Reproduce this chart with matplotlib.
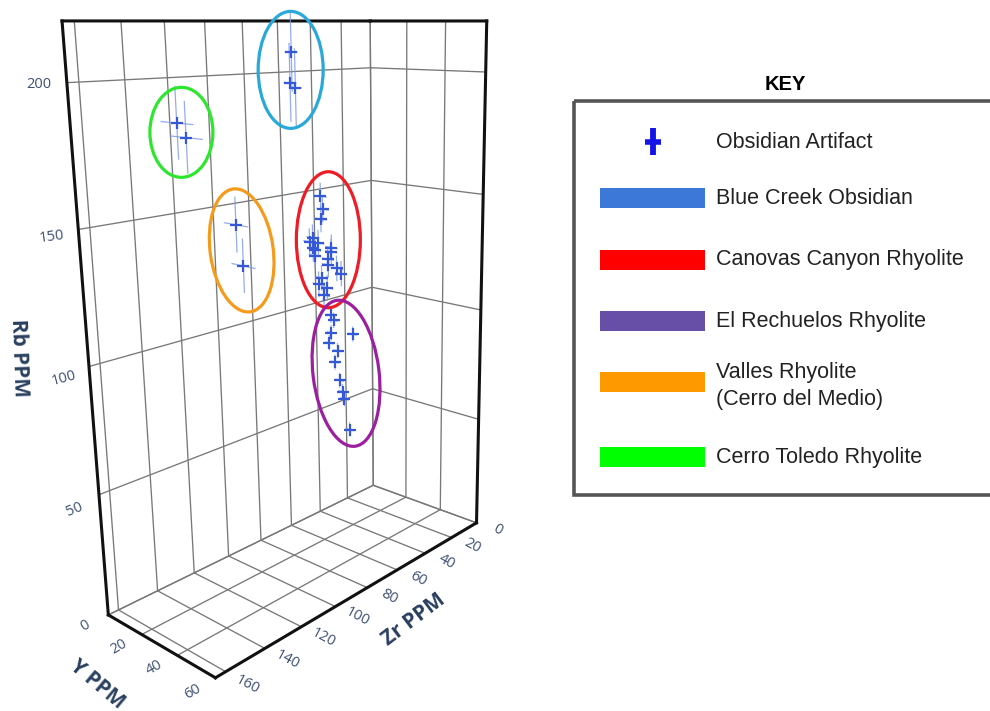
import numpy as np
import matplotlib.pyplot as plt
from matplotlib.patches import Ellipse, Rectangle
from mpl_toolkits.mplot3d import proj3d

# ---- artifact chemistry (ppm), one block per source group -------------
# Blue Creek Obsidian
bc_zr = [86, 86, 82]
bc_y = [31, 30, 29]
bc_rb = [209, 198, 196]
# Cerro Toledo Rhyolite
ct_zr = [143, 140]
ct_y = [30, 31]
ct_rb = [187, 182]
# Valles Rhyolite (Cerro del Medio)
vr_zr = [117, 113]
vr_y = [30, 29]
vr_rb = [149, 133]
# Canovas Canyon Rhyolite
cc_zr = [70, 70, 70, 74, 77, 73, 75, 73, 74, 65, 64, 65, 66, 62, 58, 69, 72, 68, 69]
cc_y = [30, 31, 30, 29, 30, 31, 30, 29, 30, 31, 30, 29, 30, 31, 30, 29, 30, 31, 30]
cc_rb = [154, 149, 145, 138, 137, 136, 134, 133, 131, 133, 131, 128, 126, 124, 121, 121, 119, 117, 114]
# El Rechuelos Rhyolite
er_zr = [65, 62, 66, 51, 65, 61, 64, 60, 57, 57, 55]
er_y = [30, 29, 31, 30, 29, 30, 31, 30, 29, 30, 31]
er_rb = [105, 102, 98, 94, 93, 89, 85, 76, 70, 67, 53]

# measurement error (ppm) per group: Rb, Y
err_rb = [14, 12, 10, 5, 3]
err_y = [3, 8, 6, 3, 2]

zr_ticks = [0, 20, 40, 60, 80, 100, 120, 140, 160]
y_ticks = [0, 20, 40, 60]
rb_ticks = [0, 50, 100, 150, 200]
ZR_MAX, Y_MAX, RB_MAX = 165, 60, 220

key_labels = ["Blue Creek Obsidian", "Canovas Canyon Rhyolite", "El Rechuelos Rhyolite",
              "Valles Rhyolite\n(Cerro del Medio)", "Cerro Toledo Rhyolite"]
key_colors = ["#3c78d8", "#ff0000", "#674ea7", "#ff9900", "#00ff00"]

groups = [
    (bc_zr, bc_y, bc_rb),
    (ct_zr, ct_y, ct_rb),
    (vr_zr, vr_y, vr_rb),
    (cc_zr, cc_y, cc_rb),
    (er_zr, er_y, er_rb),
]
# ellipse around each group: colour, width, height (px), tilt, nudge (px)
ring_style = [
    ("#29a8da", 65, 117, 0, (-2, 0)),
    ("#2ee62e", 63, 90, 0, (0, 2)),
    ("#f59b1c", 63, 124, -8, (2, 5)),
    ("#ee1c25", 64, 136, 0, (3, -6)),
    ("#9c1fa0", 66, 147, -7, (5, 1)),
]

W, H = 990, 711
fig = plt.figure(figsize=(W / 100, H / 100), dpi=100)

# camera: mpl always looks at the centre of the limits box, so the limits are
# widened (and the walls drawn by hand) to aim it like the original view
zr_lim = (-83, ZR_MAX)
y_lim = (0, 93)
rb_lim = (0, RB_MAX)
unit = (0.929, 1.04, 1.0)

S = 791
cx, cy = 388, 310
ax = fig.add_axes([(cx - S / 2) / W, (H - cy - S / 2) / H, S / W, S / H], projection="3d")
ax.set_proj_type("persp", focal_length=0.248)
ax.view_init(elev=14.7, azim=40.1)
ax.set_box_aspect(((zr_lim[1] - zr_lim[0]) * unit[0], (y_lim[1] - y_lim[0]) * unit[1],
                   (rb_lim[1] - rb_lim[0]) * unit[2]))
ax.set_xlim(*zr_lim)
ax.set_ylim(*y_lim)
ax.set_zlim(*rb_lim)
ax.set_axis_off()
ax.computed_zorder = False

gk = dict(color="#787878", lw=0.95, zorder=1)
for z in zr_ticks:
    ax.plot([z, z], [0, 0], [0, RB_MAX], **gk)
    ax.plot([z, z], [0, Y_MAX], [0, 0], **gk)
for y in y_ticks:
    ax.plot([0, 0], [y, y], [0, RB_MAX], **gk)
    ax.plot([0, ZR_MAX], [y, y], [0, 0], **gk)
for r in rb_ticks:
    ax.plot([0, ZR_MAX], [0, 0], [r, r], **gk)
    ax.plot([0, 0], [0, Y_MAX], [r, r], **gk)

# thick outline of the visible walls
ek = dict(color="#111111", lw=2.2, zorder=3)
ax.plot([ZR_MAX, ZR_MAX], [0, 0], [0, RB_MAX], **ek)
ax.plot([0, 0], [Y_MAX, Y_MAX], [0, RB_MAX], **ek)
ax.plot([ZR_MAX, ZR_MAX], [0, Y_MAX], [0, 0], **ek)
ax.plot([ZR_MAX, 0], [Y_MAX, Y_MAX], [0, 0], **ek)
ax.plot([ZR_MAX, 0], [0, 0], [RB_MAX, RB_MAX], **ek)
ax.plot([0, 0], [0, Y_MAX], [RB_MAX, RB_MAX], **ek)

for gi, (zr, yy, rb) in enumerate(groups):
    for a, b, c in zip(zr, yy, rb):
        ax.plot([a, a], [b, b], [c - err_rb[gi], c + err_rb[gi]], color="#7b98ea", lw=0.9, alpha=0.8, zorder=4)
        ax.plot([a, a], [b - err_y[gi], b + err_y[gi]], [c, c], color="#7b98ea", lw=0.9, alpha=0.8, zorder=4)
    ax.scatter(zr, yy, rb, marker="+", s=80, linewidths=1.6, color="#3558d6", depthshade=False, zorder=5)

fig.canvas.draw()


def to_px(xs, ys, zs):
    x2, y2, _ = proj3d.proj_transform(np.asarray(xs, float), np.asarray(ys, float),
                                      np.asarray(zs, float), ax.get_proj())
    d = ax.transData.transform(np.column_stack([x2, y2]))
    return d[:, 0], H - d[:, 1]


ov = fig.add_axes([0, 0, 1, 1])
ov.set_xlim(0, W)
ov.set_ylim(H, 0)
ov.axis("off")

tick_kw = dict(family="Open Sans", fontsize=10.5, color="#3d4f73", ha="center", va="center")
for v in rb_ticks[1:]:
    px, py = to_px([ZR_MAX + 14], [4], [v])
    ov.text(px[0], py[0], str(v), rotation=(200 - v) * 0.15, **tick_kw)
for v in y_ticks:
    px, py = to_px([ZR_MAX + 11], [v], [0])
    ov.text(px[0], py[0], str(v), rotation=30, **tick_kw)
for v in zr_ticks:
    px, py = to_px([v], [Y_MAX + 11], [0])
    ov.text(px[0], py[0], str(v), rotation=-28, **tick_kw)

title_kw = dict(family="Open Sans", fontsize=15, fontweight="bold", color="#2a3f5f", ha="center", va="center")
ov.text(19, 358, "Rb PPM", rotation=-88, **title_kw)
ov.text(97, 684, "Y PPM", rotation=-40, **title_kw)
ov.text(414, 620, "Zr PPM", rotation=37, **title_kw)

for (zr, yy, rb), (col, w, h, ang, nudge) in zip(groups, ring_style):
    px, py = to_px(zr, yy, rb)
    ctr = ((px.min() + px.max()) / 2 + nudge[0], (py.min() + py.max()) / 2 + nudge[1])
    ov.add_patch(Ellipse(ctr, w, h, angle=ang, fill=False, ec=col, lw=2.3))

# ---- key ---------------------------------------------------------------
ov.text(785, 84, "KEY", family="Liberation Sans", fontsize=14.5, fontweight="bold", ha="center", va="center")
ov.add_patch(Rectangle((574, 101), 440, 394, fill=False, ec="#555555", lw=2.6))
ov.plot([653, 653], [128, 155], color="#1414e6", lw=4.2, solid_capstyle="butt")
ov.plot([645, 661], [142, 142], color="#1414e6", lw=4.0, solid_capstyle="butt")
txt_kw = dict(family="Liberation Sans", fontsize=15.5, color="#222222", ha="left", va="center")
ov.text(716, 143, "Obsidian Artifact", **txt_kw)
bar_y = [198, 260, 321, 382, 457]
for lab, col, yb in zip(key_labels, key_colors, bar_y):
    ov.add_patch(Rectangle((600, yb - 10), 105, 20, color=col, lw=0))
    ov.text(716, yb + 4 if "\n" in lab else yb, lab, linespacing=1.4, **txt_kw)

fig.savefig("out.png", dpi=100)
